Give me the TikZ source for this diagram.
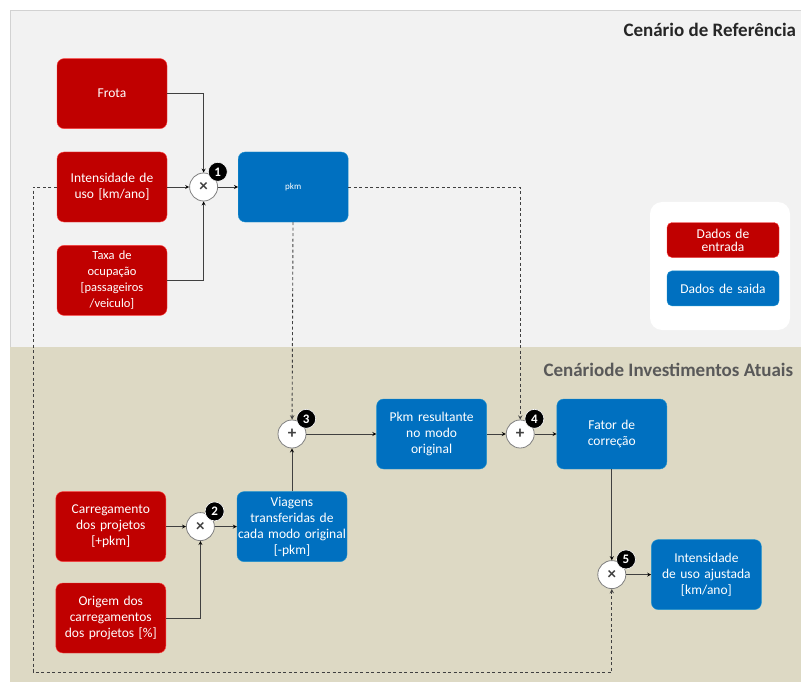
\documentclass[tikz,border=0pt]{standalone}
\usepackage{fontspec}
\setmainfont{Carlito}
\usetikzlibrary{positioning}
\definecolor{entrada}{RGB}{192,0,0}
\definecolor{saida}{RGB}{0,112,192}
\definecolor{painel}{RGB}{242,242,242}
\definecolor{areia}{RGB}{221,217,196}
\definecolor{linha}{RGB}{64,64,64}

\begin{document}
\begin{tikzpicture}[x=1pt,y=-1pt,>=stealth,
      in box/.style={rectangle,rounded corners=7pt,fill=entrada,draw=red!75!white,text=white,
        minimum width=110pt,minimum height=70pt,text width=108pt,inner sep=1pt,align=center,
        font=\fontsize{13.5}{16}\selectfont},
      out box/.style={in box,fill=saida,draw=cyan!55!saida},
      leg box/.style={in box,rounded corners=5pt,minimum width=112pt,minimum height=35pt},
      op node/.style={circle,draw=gray,fill=white,line width=0.8pt,minimum size=28pt,inner sep=0pt,
        text=linha,font=\bfseries\fontsize{17}{17}\selectfont},
      badge/.style={circle,fill=black,draw=white,line width=0.6pt,text=white,minimum size=19pt,inner sep=0pt,
        font=\bfseries\fontsize{13}{13}\selectfont},
      flow/.style={->,draw=linha,line width=0.8pt},
      dash line/.style={->,draw=linha,line width=0.9pt,dash pattern=on 3pt off 2.5pt},
      elbow/.style={to path={-| (\tikztotarget)}},
      title/.style={anchor=base west,font=\bfseries\fontsize{19}{19}\selectfont}]
      \useasboundingbox (0,0) rectangle (801,682);
      \clip (0,0) rectangle (801,682);

      % paineis
      \fill[white] (0,0) rectangle (801,682);
      \fill[painel] (10,10) rectangle (801,347);
      \draw[gray!35] (10,347) |- (801,10);
      \fill[areia] (10,347) rectangle (801,682);
      \fill[white,rounded corners=12pt] (650,202) rectangle (790,330);
      \node[title,text=black!85] (tref) at (620,37) {Cenário de Referência};
      \node[title,text=black!65] (tinv) at (540,376) {Cenáriode Investimentos Atuais};

      % legenda
      \node[leg box] (lentrada) at (723,240) {Dados de\\[-3pt]entrada};
      \node[leg box,fill=saida,draw=cyan!55!saida] (lsaida) [below=13pt of lentrada] {Dados de saida};

      % cenario de referencia
      \node[in box] (intens) at (112,187) {Intensidade de\\uso {[}km/ano]};
      \node[in box] (frota) [above=23pt of intens] {Frota};
      \node[in box,font=\fontsize{12.5}{16}\selectfont] (taxa) [below=23pt of intens] {Taxa de\\ocupação\\{[}passageiros\\/veiculo]};
      \node[op node] (mult1) [right=22pt of intens] {×};
      \node[out box,font=\fontsize{9}{10}\selectfont] (pkm) [right=20pt of mult1] {pkm};

      % cenario de investimentos
      \node[op node] (plus3) at (292,434) {+};
      \node[out box] (pkmres) [right=70pt of plus3] {Pkm resultante\\no modo\\original};
      \node[op node] (plus4) [right=19pt of pkmres] {+};
      \node[out box] (fator) [right=22pt of plus4] {Fator de\\correção};
      \node[op node] (mult5) [below=91pt of fator] {×};
      \node[out box] (ajust) [right=25pt of mult5] {Intensidade\\de uso ajustada\\{[}km/ano]};
      \node[out box] (viagens) [below=43pt of plus3] {Viagens\\transferidas de\\cada modo original\\{[}-pkm]};
      \node[op node] (mult2) [left=22pt of viagens] {×};
      \node[in box] (carreg) [left=20pt of mult2] {Carregamento\\dos projetos\\{[}+pkm]};
      \node[in box] (origem) [below=21pt of carreg] {Origem dos\\carregamentos\\dos projetos [\%]};
      \coordinate (volta) at (33,672);

      \path[flow]
        (frota) edge [elbow] (mult1)
        (intens) edge (mult1)
        (taxa) edge [elbow] (mult1)
        (mult1) edge (pkm)
        (carreg) edge (mult2)
        (origem) edge [elbow] (mult2)
        (mult2) edge (viagens)
        (viagens) edge (plus3)
        (plus3) edge (pkmres)
        (pkmres) edge (plus4)
        (plus4) edge (fator)
        (fator) edge (mult5)
        (mult5) edge (ajust);

      \draw[dash line] (pkm) -- (plus3);
      \draw[dash line] (pkm) -| (plus4);
      \draw[dash line] (intens.west) -| (volta) -| (mult5);

      % numeros
      \node[badge] (n1) [xshift=4pt,yshift=5pt] at (mult1.45) {1};
      \node[badge] (n2) [xshift=4pt,yshift=5pt] at (mult2.45) {2};
      \node[badge] (n3) [xshift=4pt,yshift=5pt] at (plus3.45) {3};
      \node[badge] (n4) [xshift=4pt,yshift=5pt] at (plus4.45) {4};
      \node[badge] (n5) [xshift=4pt,yshift=5pt] at (mult5.45) {5};
\end{tikzpicture}
\end{document}
